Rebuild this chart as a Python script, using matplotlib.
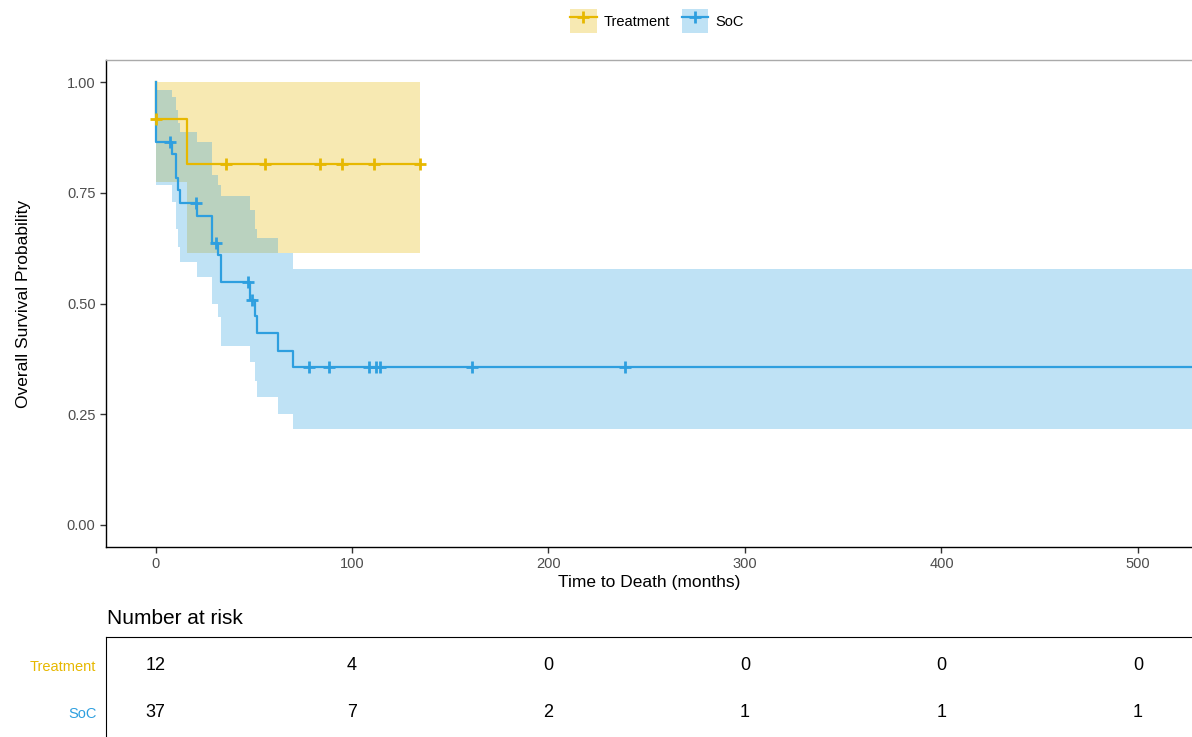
import numpy as np
import matplotlib
matplotlib.use("Agg")
import matplotlib.pyplot as plt
from matplotlib.lines import Line2D
from matplotlib.patches import Patch
from matplotlib.legend_handler import HandlerTuple

plt.rcParams["font.family"] = ["Liberation Sans", "DejaVu Sans"]

# Kaplan-Meier step estimates (time in months, value after each step)
trt_times = [0, 0.1, 15.8, 134.8]
trt_surv = [1.0, 0.917, 0.816, 0.816]
trt_lower = [1.0, 0.774, 0.614, 0.614]
trt_upper = [1.0, 1.0, 1.0, 1.0]
trt_censor = [0.4, 35.8, 55.6, 83.5, 94.7, 111.4, 134.8]

soc_times = [0, 0.5, 8.5, 10.5, 11.5, 12.4, 21.0, 28.6, 31.9, 33.3,
             48.0, 50.5, 51.4, 62.3, 70.0, 540.0]
soc_surv = [1.0, 0.865, 0.837, 0.783, 0.756, 0.7265, 0.698, 0.636, 0.609,
            0.549, 0.509, 0.471, 0.4325, 0.393, 0.356, 0.356]
soc_lower = [1.0, 0.767, 0.729, 0.669, 0.628, 0.594, 0.560, 0.500, 0.469,
             0.405, 0.368, 0.326, 0.289, 0.251, 0.217, 0.217]
soc_upper = [1.0, 0.983, 0.967, 0.937, 0.907, 0.888, 0.865, 0.790, 0.767,
             0.742, 0.711, 0.669, 0.649, 0.613, 0.579, 0.579]
soc_censor = [7.4, 20.6, 30.7, 47.0, 49.3, 78.0, 88.2, 108.9, 112.3,
              114.5, 161.0, 238.8]

# Number at risk table
risk_times = [0, 100, 200, 300, 400, 500]
trt_risk = [12, 4, 0, 0, 0, 0]
soc_risk = [37, 7, 2, 1, 1, 1]

group_names = ["Treatment", "SoC"]
group_colors = ["#E7B800", "#2E9FDF"]

W, H = 1192, 737
fig = plt.figure(figsize=(W / 100, H / 100), dpi=100)

ax_l, ax_r, ax_t, ax_b = 106, 1192, 60, 547
ax = fig.add_axes([ax_l / W, 1 - ax_b / H, (ax_r - ax_l) / W, (ax_b - ax_t) / H])

curves = [
    (trt_times, trt_surv, trt_lower, trt_upper, trt_censor),
    (soc_times, soc_surv, soc_lower, soc_upper, soc_censor),
]

for (t, s, lo, up, cen), col in zip(curves, group_colors):
    ax.fill_between(t, lo, up, step="post", color=col, alpha=0.3,
                    linewidth=0, zorder=1)
for (t, s, lo, up, cen), col in zip(curves, group_colors):
    ax.step(t, s, where="post", color=col, lw=1.6, zorder=3)
    idx = np.searchsorted(t, cen, side="right") - 1
    ax.plot(cen, np.asarray(s)[idx], ls="none", marker="+", ms=9, mew=2,
            color=col, zorder=4)

ax.set_xlim(-25.2, 527.5)
ax.set_ylim(-0.05, 1.05)
ax.set_xticks(risk_times)
ax.set_yticks([0, 0.25, 0.5, 0.75, 1.0])
ax.set_yticklabels(["0.00", "0.25", "0.50", "0.75", "1.00"])
ax.tick_params(axis="both", colors="#333333", labelcolor="#4D4D4D",
               labelsize=10.5, length=4, width=1)
ax.spines["right"].set_visible(False)
ax.spines["top"].set_color("#AAAAAA")
ax.spines["top"].set_linewidth(1)
ax.spines["left"].set_linewidth(1)
ax.spines["bottom"].set_linewidth(1)
ax.set_xlabel("Time to Death (months)", fontsize=12.5, labelpad=2.5)
ax.set_ylabel("Overall Survival Probability", fontsize=12.5, labelpad=26)

# Legend on top
handles = [
    (Patch(facecolor=c, alpha=0.3, edgecolor="none"),
     Line2D([], [], color=c, lw=1.6, marker="+", ms=9, mew=2))
    for c in group_colors
]
fig.legend(handles, group_names, loc="center",
           bbox_to_anchor=(657 / W, 1 - 21 / H), ncol=2, frameon=False,
           handler_map={tuple: HandlerTuple(ndivide=1)}, fontsize=10.5,
           handlelength=1.8, handleheight=2.2, columnspacing=0.8,
           handletextpad=0.5)

# Risk table
tb_top = 637
rax = fig.add_axes([ax_l / W, 0, (ax_r - ax_l) / W, (H - tb_top) / H])
rax.set_xlim(ax.get_xlim())
rax.set_ylim(-0.511, 1.617)
for row, counts in zip([1, 0], [trt_risk, soc_risk]):
    for tt, n in zip(risk_times, counts):
        rax.text(tt, row, str(n), ha="center", va="center", fontsize=13,
                 color="black")
rax.set_xticks([])
rax.set_yticks([1, 0])
rax.set_yticklabels(group_names, fontsize=10.5)
for lab, col in zip(rax.get_yticklabels(), group_colors):
    lab.set_color(col)
rax.tick_params(axis="y", length=0, pad=7)
rax.spines["right"].set_visible(False)
rax.spines["bottom"].set_visible(False)
fig.text(107 / W, 1 - 619 / H, "Number at risk", fontsize=15,
         ha="left", va="center")

fig.savefig("out.png", dpi=100)
